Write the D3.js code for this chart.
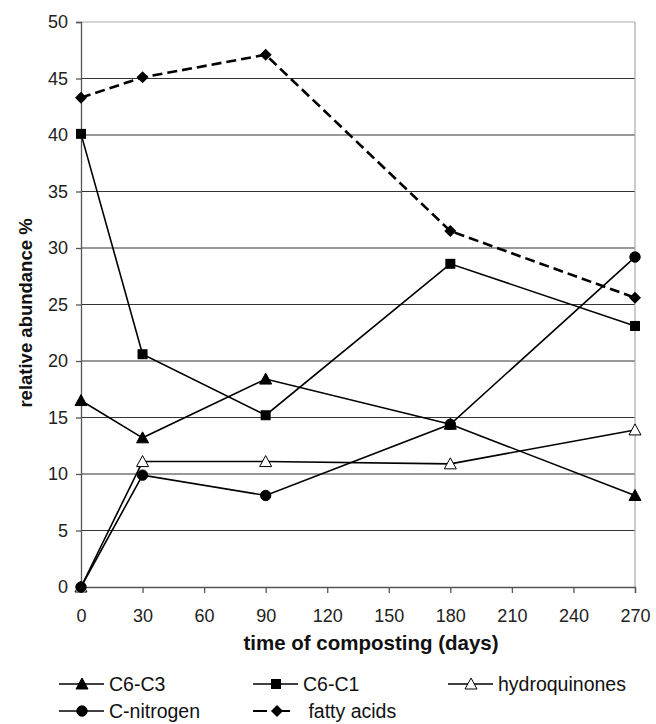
<!DOCTYPE html>
<html>
<head>
<meta charset="utf-8">
<script src="https://cdn.jsdelivr.net/npm/d3@7"></script>
<style>
body{margin:0;background:#fff;}
svg{font-family:"Liberation Sans",Arial,sans-serif;}
</style>
</head>
<body>
<div id="container"></div>
<script>
var days = [0, 30, 90, 180, 270];
var xTicks = [0, 30, 60, 90, 120, 150, 180, 210, 240, 270];
var yTicks = [0, 5, 10, 15, 20, 25, 30, 35, 40, 45, 50];
var c6c3 = [16.5, 13.2, 18.4, 14.4, 8.1];
var c6c1 = [40.1, 20.6, 15.2, 28.6, 23.1];
var hydroquinones = [0, 11.1, 11.1, 10.9, 13.9];
var cNitrogen = [0, 9.9, 8.1, 14.4, 29.2];
var fattyAcids = [43.3, 45.1, 47.1, 31.5, 25.6];
var seriesNames = ['C6-C3', 'C6-C1', 'hydroquinones', 'C-nitrogen', 'fatty acids'];

var series = [
    {name:seriesNames[0], values:c6c3, marker:'triangle', fill:'#000', dash:null},
    {name:seriesNames[1], values:c6c1, marker:'square', fill:'#000', dash:null},
    {name:seriesNames[2], values:hydroquinones, marker:'triangle', fill:'#fff', dash:null},
    {name:seriesNames[3], values:cNitrogen, marker:'circle', fill:'#000', dash:null},
    {name:seriesNames[4], values:fattyAcids, marker:'diamond', fill:'#000', dash:'10,5'}
];

var width = 656, height = 724;
var plotLeft = 81, plotRight = 635, plotTop = 22, plotBottom = 587;

var svg = d3.select('#container').append('svg')
    .attr('width', width)
    .attr('height', height);

var x = d3.scaleLinear().domain([0, 270]).range([plotLeft, plotRight]);
var y = d3.scaleLinear().domain([0, 50]).range([plotBottom, plotTop]);

// grid lines
svg.append('g').selectAll('line').data(yTicks.slice(1)).enter().append('line')
    .attr('x1', plotLeft).attr('x2', plotRight)
    .attr('y1', function(d){ return y(d); })
    .attr('y2', function(d){ return y(d); })
    .attr('stroke', function(d){ return d == 50 ? '#aaa' : '#333'; })
    .attr('stroke-width', 1.2);
// right border
svg.append('line')
    .attr('x1', plotRight).attr('x2', plotRight).attr('y1', plotTop).attr('y2', plotBottom)
    .attr('stroke', '#aaa').attr('stroke-width', 1.2);

// axes
var yAxis = svg.append('g')
    .attr('transform', 'translate(' + plotLeft + ',0)')
    .call(d3.axisLeft(y).tickValues(yTicks).tickSize(5).tickPadding(8));
var xAxis = svg.append('g')
    .attr('transform', 'translate(0,' + plotBottom + ')')
    .call(d3.axisBottom(x).tickValues(xTicks).tickSize(6).tickPadding(16));
[xAxis, yAxis].forEach(function(a){
    a.select('.domain').attr('stroke', '#555').attr('stroke-width', 1.3);
    a.selectAll('.tick line').attr('stroke', '#555').attr('stroke-width', 1.3);
    a.selectAll('text').attr('font-size', 18).attr('fill', '#222')
        .attr('font-family', '"Liberation Sans",Arial,sans-serif');
});

// axis titles
svg.append('text')
    .attr('x', 371).attr('y', 650)
    .attr('text-anchor', 'middle')
    .attr('font-size', 20.5).attr('font-weight', 'bold').attr('fill', '#111')
    .text('time of composting (days)');
svg.append('text')
    .attr('transform', 'translate(32,313) rotate(-90)')
    .attr('text-anchor', 'middle')
    .attr('font-size', 18.5).attr('font-weight', 'bold').attr('fill', '#111')
    .text('relative abundance %');

function drawMarker(g, type, fill, cx, cy){
    if(type == 'circle'){
        g.append('circle').attr('cx', cx).attr('cy', cy).attr('r', 5.2)
            .attr('fill', fill).attr('stroke', '#000').attr('stroke-width', 1);
    }else if(type == 'square'){
        g.append('rect').attr('x', cx - 5).attr('y', cy - 5)
            .attr('width', 10).attr('height', 10).attr('fill', fill);
    }else if(type == 'triangle'){
        g.append('path')
            .attr('d', 'M' + cx + ',' + (cy - 6) + 'L' + (cx + 6) + ',' + (cy + 5) + 'L' + (cx - 6) + ',' + (cy + 5) + 'Z')
            .attr('fill', fill).attr('stroke', '#000').attr('stroke-width', 1);
    }else if(type == 'diamond'){
        g.append('path')
            .attr('d', 'M' + cx + ',' + (cy - 6) + 'L' + (cx + 6) + ',' + cy + 'L' + cx + ',' + (cy + 6) + 'L' + (cx - 6) + ',' + cy + 'Z')
            .attr('fill', fill);
    }
}

var line = d3.line()
    .x(function(d, i){ return x(days[i]); })
    .y(function(d){ return y(d); });

for(var i = 0; i < series.length; i++){
    var s = series[i];
    var g = svg.append('g');
    g.append('path')
        .attr('d', line(s.values))
        .attr('fill', 'none')
        .attr('stroke', '#000')
        .attr('stroke-width', s.dash ? 2.6 : 1.6)
        .attr('stroke-dasharray', s.dash);
    for(var j = 0; j < s.values.length; j++){
        drawMarker(g, s.marker, s.fill, x(days[j]), y(s.values[j]));
    }
}

// legend
var legendPos = [[59, 684], [253, 684], [448, 684], [59, 711], [253, 711]];
for(i = 0; i < series.length; i++){
    var s = series[i];
    var lx = legendPos[i][0], ly = legendPos[i][1];
    var lg = svg.append('g');
    if(s.dash){
        lg.append('line').attr('x1', lx).attr('x2', lx + 14).attr('y1', ly).attr('y2', ly)
            .attr('stroke', '#000').attr('stroke-width', 2);
        lg.append('line').attr('x1', lx + 19).attr('x2', lx + 37).attr('y1', ly).attr('y2', ly)
            .attr('stroke', '#000').attr('stroke-width', 2);
        drawMarker(lg, s.marker, s.fill, lx + 24, ly);
    }else{
        lg.append('line').attr('x1', lx).attr('x2', lx + 45).attr('y1', ly).attr('y2', ly)
            .attr('stroke', '#000').attr('stroke-width', 1.6);
        drawMarker(lg, s.marker, s.fill, lx + 23, ly);
    }
    lg.append('text')
        .attr('x', lx + 50).attr('y', ly + 7)
        .attr('font-size', 19.5).attr('fill', '#111')
        .text(s.dash ? '\u00a0' + s.name : s.name);
}
</script>
</body>
</html>
